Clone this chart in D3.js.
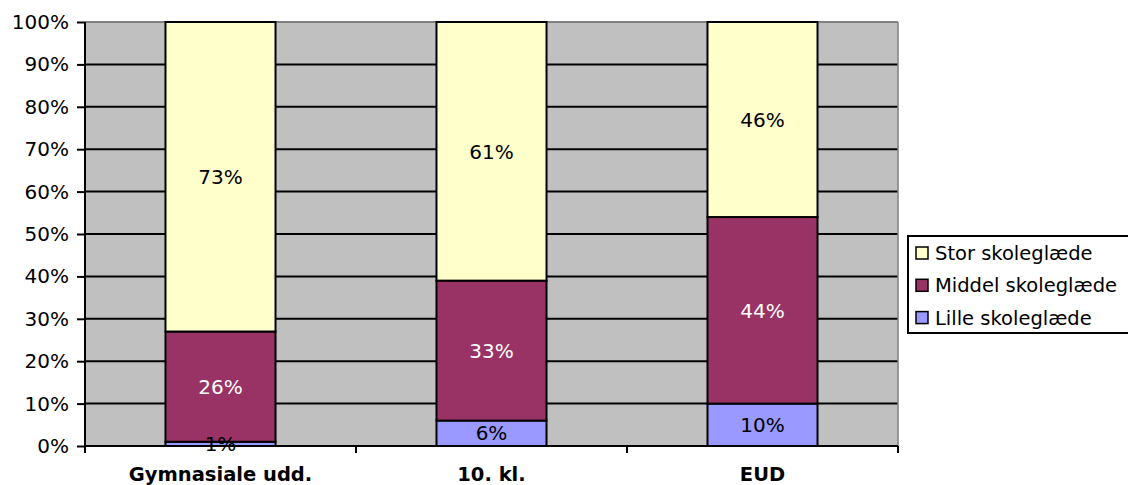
<!DOCTYPE html>
<html><head><meta charset="utf-8">
<script src="https://cdn.jsdelivr.net/npm/d3@7"></script>
<style>body{margin:0;background:#fff}svg{display:block}text{font-family:"DejaVu Sans",Verdana,sans-serif}</style>
</head><body><svg id="c" width="1128" height="485"></svg>
<script>
const categories = ["Gymnasiale udd.", "10. kl.", "EUD"];
const seriesNames = ["Lille skoleglæde", "Middel skoleglæde", "Stor skoleglæde"];
const lille = [1, 6, 10];
const middel = [26, 33, 44];
const stor = [73, 61, 46];
const yTicks = [0,10,20,30,40,50,60,70,80,90,100];
const colors = ["#9999FF", "#993366", "#FFFFCC"];
const labelColors = ["#000", "#fff", "#000"];

const svg = d3.select("#c");
const L = 85, R = 898, T = 22, B = 446;
const x = d3.scaleBand().domain(categories).range([L, R]).padding(0);
const y = d3.scaleLinear().domain([0, 100]).range([B, T]);

svg.append("rect").attr("x", L).attr("y", T).attr("width", R - L).attr("height", B - T).attr("fill", "#C0C0C0");
svg.selectAll("line.g").data(yTicks.filter(d => d > 0)).enter().append("line")
  .attr("x1", L).attr("x2", R).attr("y1", d => y(d)).attr("y2", d => y(d))
  .attr("stroke", d => d === 100 ? "#808080" : "#000").attr("stroke-width", 2);
svg.append("line").attr("x1", R).attr("x2", R).attr("y1", T).attr("y2", B).attr("stroke", "#808080").attr("stroke-width", 1.5);

const data = [lille, middel, stor];
const stack = categories.map((c, i) => {
  let acc = 0;
  return data.map((s, k) => { const r = {c, k, y0: acc, y1: acc + s[i], v: s[i]}; acc += s[i]; return r; });
}).flat();
const bw = x.bandwidth() * 0.406;
const g = svg.append("g");
g.selectAll("rect").data(stack).enter().append("rect")
  .attr("x", d => x(d.c) + (x.bandwidth() - bw) / 2)
  .attr("width", bw)
  .attr("y", d => y(d.y1)).attr("height", d => y(d.y0) - y(d.y1))
  .attr("fill", d => colors[d.k]).attr("stroke", "#000").attr("stroke-width", 2);
g.selectAll("text").data(stack).enter().append("text")
  .attr("x", d => x(d.c) + x.bandwidth() / 2)
  .attr("y", d => y((d.y0 + d.y1) / 2))
  .attr("dy", "0.36em").attr("text-anchor", "middle").attr("font-size", 20)
  .attr("fill", d => labelColors[d.k]).text(d => d.v + "%");

const ya = svg.append("g").attr("transform", `translate(${L},0)`)
  .call(d3.axisLeft(y).tickValues(yTicks).tickFormat(d => d + "%").tickSize(8).tickPadding(8));
ya.select(".domain").attr("stroke", "#000").attr("stroke-width", 2).attr("d", `M0,${T}V${B}`);
ya.selectAll(".tick line").attr("stroke", "#000").attr("stroke-width", 2);
ya.selectAll(".tick text").attr("font-size", 20).attr("fill", "#000").attr("font-family", "DejaVu Sans");

const xa = svg.append("g").attr("transform", `translate(0,${B})`);
xa.append("line").attr("x1", L).attr("x2", R).attr("stroke", "#000").attr("stroke-width", 2);
const bounds = [L].concat(categories.map(c => x(c) + x.bandwidth()));
xa.selectAll("line.t").data(bounds).enter().append("line")
  .attr("x1", d => d).attr("x2", d => d).attr("y1", 0).attr("y2", 7).attr("stroke", "#000").attr("stroke-width", 2);
xa.selectAll("text").data(categories).enter().append("text")
  .attr("x", d => x(d) + x.bandwidth() / 2).attr("y", 35)
  .attr("text-anchor", "middle").attr("font-size", 19.5).attr("font-weight", "bold").text(d => d);

const lg = svg.append("g");
lg.append("rect").attr("x", 908).attr("y", 236).attr("width", 222).attr("height", 97)
  .attr("fill", "#fff").attr("stroke", "#000").attr("stroke-width", 2);
const order = [2, 1, 0];
order.forEach((k, i) => {
  const cy = 253 + i * 32.3;
  lg.append("rect").attr("x", 916).attr("y", cy - 6).attr("width", 12).attr("height", 12)
    .attr("fill", colors[k]).attr("stroke", "#000").attr("stroke-width", 1.5);
  lg.append("text").attr("x", 935).attr("y", cy).attr("dy", "0.36em").attr("font-size", 19.5).text(seriesNames[k]);
});
</script></body></html>
